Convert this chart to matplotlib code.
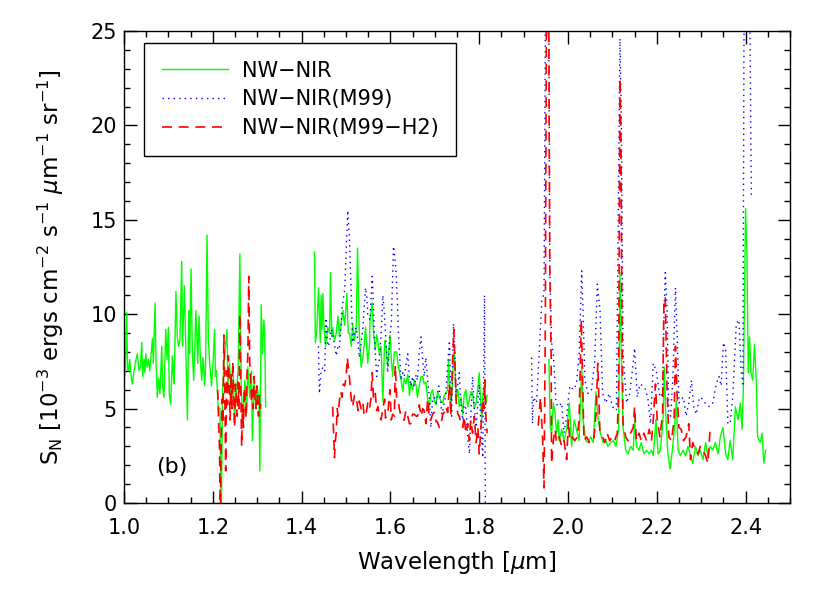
import numpy as np
import matplotlib
matplotlib.use("Agg")
import matplotlib.pyplot as plt
from matplotlib.ticker import MultipleLocator

nan = np.nan

# NW-NIR (green, solid) -- three spectral windows separated by nan
green_wl = [1.000, 1.003, 1.006, 1.008, 1.010, 1.013, 1.017, 1.019, 1.021, 1.025, 1.028, 1.030,
            1.034, 1.037, 1.040, 1.042, 1.045, 1.047, 1.049, 1.052, 1.055, 1.058, 1.064, 1.066,
            1.070, 1.072, 1.075, 1.078, 1.081, 1.085, 1.087, 1.090, 1.094, 1.097, 1.100, 1.102,
            1.105, 1.109, 1.111, 1.113, 1.117, 1.120, 1.123, 1.126, 1.130, 1.132, 1.136, 1.139,
            1.143, 1.146, 1.148, 1.151, 1.154, 1.157, 1.162, 1.166, 1.169, 1.172, 1.175, 1.178,
            1.182, 1.184, 1.187, 1.190, 1.193, 1.197, 1.201, 1.204, 1.206, 1.208, 1.212, 1.216,
            1.219, 1.222, 1.223, 1.227, 1.232, 1.234, 1.238, 1.242, 1.246, 1.249, 1.253, 1.257,
            1.261, 1.264, 1.268, 1.272, 1.276, 1.279, 1.283, 1.287, 1.289, 1.293, 1.297, 1.300,
            1.304, 1.306, 1.309, 1.312, 1.315, 1.317, 1.319,
            1.37,
            1.429, 1.431, 1.434, 1.438, 1.442, 1.444, 1.446, 1.448, 1.450, 1.454, 1.459, 1.463,
            1.465, 1.468, 1.470, 1.474, 1.478, 1.482, 1.485, 1.489, 1.493, 1.497, 1.502, 1.505,
            1.508, 1.512, 1.515, 1.519, 1.523, 1.526, 1.530, 1.534, 1.538, 1.541, 1.544, 1.549,
            1.553, 1.554, 1.559, 1.562, 1.566, 1.569, 1.572, 1.575, 1.579, 1.583, 1.587, 1.590,
            1.594, 1.599, 1.602, 1.605, 1.609, 1.614, 1.618, 1.620, 1.624, 1.628, 1.631, 1.635,
            1.639, 1.643, 1.646, 1.650, 1.654, 1.658, 1.661, 1.665, 1.669, 1.673, 1.676, 1.680,
            1.684, 1.688, 1.691, 1.695, 1.699, 1.703, 1.706, 1.710, 1.714, 1.718, 1.721, 1.725,
            1.729, 1.731, 1.733, 1.736, 1.740, 1.742, 1.744, 1.748, 1.752, 1.755, 1.759, 1.763,
            1.766, 1.770, 1.774, 1.778, 1.781, 1.785, 1.789, 1.793, 1.797, 1.800, 1.804, 1.806,
            1.808, 1.811, 1.815, 1.818,
            1.88,
            1.957, 1.960, 1.963, 1.967, 1.971, 1.974, 1.978, 1.980, 1.986, 1.991, 1.997, 2.003,
            2.008, 2.014, 2.019, 2.025, 2.031, 2.034, 2.040, 2.045, 2.051, 2.057, 2.063, 2.068,
            2.073, 2.079, 2.085, 2.090, 2.096, 2.102, 2.108, 2.114, 2.117, 2.120, 2.124, 2.130,
            2.135, 2.141, 2.147, 2.150, 2.154, 2.160, 2.165, 2.171, 2.177, 2.183, 2.188, 2.192,
            2.198, 2.203, 2.208, 2.214, 2.217, 2.220, 2.225, 2.230, 2.235, 2.240, 2.244, 2.248,
            2.253, 2.259, 2.265, 2.270, 2.275, 2.281, 2.287, 2.293, 2.298, 2.304, 2.310, 2.315,
            2.320, 2.326, 2.332, 2.338, 2.343, 2.349, 2.355, 2.360, 2.365, 2.371, 2.377, 2.383,
            2.388, 2.392, 2.395, 2.400, 2.403, 2.406, 2.409, 2.412, 2.416, 2.420, 2.424, 2.427,
            2.433, 2.437, 2.441, 2.445]
green_sn = [6.5, 7.0, 10.1, 7.1, 7.0, 7.6, 6.5, 6.3, 6.7, 7.4, 7.7, 7.9,
            7.0, 7.2, 8.5, 6.7, 7.6, 6.9, 7.9, 7.2, 7.6, 7.0, 8.7, 7.4,
            10.6, 7.6, 5.6, 6.6, 5.8, 8.3, 6.2, 5.6, 9.2, 7.6, 9.3, 5.8,
            5.2, 7.8, 6.8, 6.3, 11.2, 8.8, 8.3, 8.6, 12.8, 8.3, 11.5, 8.3,
            4.4, 10.2, 7.9, 12.4, 7.9, 6.5, 10.2, 7.4, 9.9, 7.6, 6.5, 7.7,
            6.2, 7.6, 14.2, 8.8, 7.4, 6.2, 7.6, 9.2, 6.7, 7.0, 5.1, 5.0,
            -1.0, 6.0, 6.5, 7.9, 9.2, 6.2, 7.4, 5.1, 6.7, 4.4, 5.8, 7.0,
            13.2, 6.2, 4.0, 6.5, 4.7, 7.2, 5.6, 7.0, 3.3, 6.5, 5.1, 6.2,
            5.4, 1.7, 10.5, 7.9, 9.7, 8.8, 5.1,
            nan,
            13.3, 8.5, 9.0, 11.4, 8.5, 11.0, 9.2, 11.1, 9.5, 8.3, 9.3, 9.0,
            12.2, 8.8, 9.3, 8.6, 9.0, 9.9, 8.8, 9.5, 10.2, 9.4, 11.1, 9.0,
            9.0, 8.3, 9.5, 8.6, 9.3, 13.5, 9.0, 7.2, 7.7, 8.4, 9.3, 7.4,
            8.4, 9.7, 10.6, 9.0, 8.1, 8.9, 8.5, 7.9, 8.3, 5.4, 8.6, 8.3,
            7.2, 8.9, 7.7, 6.7, 8.0, 8.0, 7.2, 7.0, 6.5, 5.9, 6.6, 6.3,
            6.8, 5.7, 6.4, 6.0, 6.5, 6.2, 5.6, 6.2, 6.7, 6.7, 6.3, 6.4,
            5.5, 5.1, 5.8, 6.0, 5.4, 5.2, 5.9, 5.6, 5.4, 5.3, 5.7, 5.8,
            6.0, 7.6, 6.5, 5.1, 6.4, 7.7, 8.0, 5.5, 6.0, 5.1, 5.6, 4.7,
            5.7, 6.0, 5.1, 5.5, 5.9, 5.8, 5.0, 5.3, 6.1, 6.9, 5.1, 4.4,
            5.6, 6.2, 5.3, 5.7,
            nan,
            7.6, 4.0, 3.7, 5.3, 4.7, 3.7, 4.4, 3.3, 3.9, 3.3, 3.9, 5.3,
            3.0, 4.4, 3.9, 3.3, 7.2, 4.4, 3.3, 3.2, 3.5, 3.2, 5.9, 4.4,
            3.7, 3.2, 3.3, 3.0, 3.2, 3.3, 3.0, 3.9, 12.2, 7.9, 4.0, 2.8,
            2.6, 3.0, 2.8, 4.4, 3.0, 2.8, 3.2, 2.6, 2.8, 2.6, 2.8, 2.5,
            4.4, 2.6, 2.8, 4.4, 7.2, 4.7, 2.6, 1.8, 2.8, 4.0, 5.4, 2.8,
            2.5, 2.8, 2.5, 3.0, 2.6, 2.1, 3.0, 2.5, 2.8, 2.3, 3.2, 2.5,
            3.0, 2.8, 3.2, 2.6, 3.5, 4.0, 2.6, 2.3, 3.3, 2.3, 5.1, 4.4,
            5.3, 3.9, 6.1, 15.6, 13.2, 6.9, 8.8, 6.9, 6.5, 8.4, 6.5, 3.5,
            3.2, 3.7, 2.1, 2.8]

# NW-NIR(M99) (blue, dotted)
blue_wl = [1.438, 1.440, 1.444, 1.448, 1.452, 1.455, 1.459, 1.463, 1.467, 1.470, 1.474, 1.478,
           1.482, 1.485, 1.489, 1.491, 1.497, 1.502, 1.504, 1.508, 1.512, 1.515, 1.519, 1.523,
           1.527, 1.530, 1.534, 1.538, 1.544, 1.547, 1.549, 1.554, 1.559, 1.562, 1.564, 1.569,
           1.572, 1.575, 1.579, 1.583, 1.586, 1.589, 1.594, 1.599, 1.602, 1.607, 1.610, 1.613,
           1.616, 1.618, 1.624, 1.628, 1.631, 1.635, 1.639, 1.643, 1.646, 1.650, 1.654, 1.658,
           1.661, 1.665, 1.669, 1.673, 1.676, 1.680, 1.684, 1.688, 1.691, 1.695, 1.699, 1.703,
           1.709, 1.712, 1.716, 1.721, 1.724, 1.729, 1.733, 1.736, 1.738, 1.742, 1.745, 1.748,
           1.752, 1.755, 1.759, 1.763, 1.766, 1.770, 1.774, 1.778, 1.781, 1.785, 1.789, 1.793,
           1.797, 1.800, 1.804, 1.808, 1.812, 1.814,
           1.87,
           1.918, 1.920, 1.922, 1.929, 1.935, 1.941, 1.946, 1.950, 1.956, 1.959, 1.963, 1.967,
           1.973, 1.978, 1.986, 1.991, 1.997, 2.004, 2.012, 2.019, 2.025, 2.031, 2.034, 2.038,
           2.045, 2.053, 2.060, 2.066, 2.072, 2.078, 2.085, 2.093, 2.100, 2.109, 2.113, 2.117,
           2.120, 2.124, 2.132, 2.139, 2.145, 2.150, 2.156, 2.162, 2.169, 2.175, 2.180, 2.186,
           2.192, 2.199, 2.207, 2.213, 2.216, 2.219, 2.223, 2.227, 2.231, 2.236, 2.242, 2.246,
           2.250, 2.255, 2.260, 2.266, 2.272, 2.278, 2.283, 2.289, 2.296, 2.304, 2.311, 2.319,
           2.326, 2.334, 2.340, 2.345, 2.350, 2.355, 2.360, 2.365, 2.371, 2.379, 2.385, 2.390,
           2.394, 2.397, 2.402, 2.408, 2.413]
blue_sn = [8.3, 5.8, 7.0, 7.2, 7.0, 9.8, 8.3, 8.5, 9.2, 9.0, 8.4, 7.8,
           8.3, 8.2, 9.4, 10.3, 11.3, 14.4, 15.5, 13.9, 10.7, 8.5, 9.0, 9.3,
           8.5, 7.7, 8.4, 9.3, 11.4, 10.9, 10.0, 9.7, 12.0, 10.5, 8.8, 6.7,
           7.2, 7.6, 8.9, 11.0, 10.2, 9.0, 6.9, 8.9, 9.5, 13.6, 13.0, 12.1,
           10.5, 9.0, 6.5, 6.9, 6.7, 7.3, 7.9, 6.6, 6.2, 6.7, 6.2, 6.8,
           6.5, 8.0, 8.8, 7.5, 6.7, 7.7, 6.5, 5.5, 4.0, 5.5, 5.6, 5.3,
           6.2, 5.7, 4.7, 5.3, 5.6, 7.3, 8.6, 6.0, 4.6, 9.5, 8.0, 5.8,
           6.3, 6.9, 5.2, 4.4, 5.2, 5.0, 3.5, 2.6, 4.5, 6.7, 5.0, 4.0,
           5.3, 6.3, 4.0, 2.4, 11.0, -1.0,
           nan,
           7.7, 4.2, 5.6, 5.3, 7.9, 10.7, 11.1, 30.0, 30.0, 12.5, 8.5, 7.9,
           5.3, 5.1, 5.3, 3.7, 4.6, 6.2, 6.0, 6.3, 7.9, 12.3, 10.0, 6.5,
           5.8, 6.0, 7.4, 11.6, 10.2, 5.8, 5.3, 5.8, 5.1, 4.9, 15.0, 24.6,
           20.6, 7.9, 5.3, 5.8, 7.0, 8.2, 5.6, 6.3, 6.2, 6.0, 5.5, 4.2,
           7.4, 7.0, 5.6, 5.8, 9.7, 12.2, 10.4, 4.7, 4.6, 6.5, 11.4, 8.8,
           5.3, 5.5, 5.6, 4.6, 5.3, 6.5, 5.1, 4.7, 5.6, 5.5, 5.2, 5.1,
           5.3, 6.3, 6.7, 6.2, 8.5, 8.2, 4.2, 4.2, 5.6, 9.5, 9.7, 7.0,
           6.3, 30.0, 34.0, 30.0, 16.1]

# NW-NIR(M99-H2) (red, dashed)
red_wl = [1.211, 1.213, 1.215, 1.217, 1.219, 1.221, 1.223, 1.225, 1.227, 1.229, 1.231, 1.233,
          1.235, 1.237, 1.239, 1.241, 1.243, 1.245, 1.247, 1.249, 1.251, 1.253, 1.255, 1.257,
          1.259, 1.261, 1.263, 1.265, 1.267, 1.269, 1.271, 1.273, 1.275, 1.277, 1.279, 1.281,
          1.283, 1.285, 1.287, 1.289, 1.291, 1.293, 1.295, 1.297, 1.299, 1.301, 1.303, 1.305,
          1.307, 1.309,
          1.39,
          1.470, 1.472, 1.474, 1.476, 1.478, 1.480, 1.482, 1.485, 1.488, 1.491, 1.494, 1.497,
          1.500, 1.503, 1.506, 1.508, 1.510, 1.512, 1.515, 1.519, 1.523, 1.527, 1.530, 1.534,
          1.538, 1.541, 1.545, 1.549, 1.553, 1.556, 1.559, 1.562, 1.566, 1.569, 1.572, 1.575,
          1.579, 1.583, 1.587, 1.589, 1.594, 1.599, 1.602, 1.605, 1.609, 1.611, 1.614, 1.618,
          1.620, 1.624, 1.628, 1.631, 1.635, 1.639, 1.643, 1.646, 1.650, 1.654, 1.658, 1.661,
          1.665, 1.669, 1.673, 1.676, 1.680, 1.684, 1.688, 1.691, 1.695, 1.699, 1.703, 1.706,
          1.710, 1.714, 1.718, 1.721, 1.725, 1.729, 1.733, 1.736, 1.740, 1.743, 1.746, 1.748,
          1.752, 1.755, 1.759, 1.763, 1.766, 1.770, 1.774, 1.778, 1.781, 1.785, 1.789, 1.793,
          1.797, 1.800, 1.804, 1.808, 1.811, 1.813, 1.815, 1.818,
          1.88,
          1.933, 1.938, 1.943, 1.946, 1.949, 1.952, 1.956, 1.959, 1.962, 1.963, 1.967, 1.971,
          1.974, 1.980, 1.986, 1.991, 1.997, 2.001, 2.004, 2.010, 2.015, 2.021, 2.025, 2.030,
          2.033, 2.036, 2.042, 2.048, 2.053, 2.058, 2.063, 2.067, 2.072, 2.078, 2.083, 2.088,
          2.094, 2.100, 2.105, 2.111, 2.114, 2.117, 2.119, 2.121, 2.124, 2.130, 2.135, 2.141,
          2.147, 2.150, 2.154, 2.160, 2.165, 2.171, 2.177, 2.183, 2.188, 2.192, 2.197, 2.201,
          2.207, 2.213, 2.216, 2.219, 2.223, 2.227, 2.233, 2.239, 2.242, 2.246, 2.250, 2.255,
          2.260, 2.266, 2.272, 2.276, 2.281, 2.287, 2.293, 2.298, 2.304, 2.310, 2.315, 2.320]
red_sn = [6.0, 4.5, 3.0, -1.0, 3.5, 5.5, 4.2, 8.9, 6.0, 1.7, 7.0, 5.2,
          7.8, 6.5, 4.4, 6.9, 5.0, 7.5, 5.8, 4.0, 6.3, 5.5, 4.6, 6.4,
          5.0, 10.0, 6.0, 3.0, 5.2, 4.0, 6.1, 5.3, 4.5, 6.8, 8.0, 12.0,
          7.5, 6.6, 5.5, 6.0, 5.0, 6.7, 5.6, 5.0, 6.2, 5.2, 4.6, 5.7,
          5.0, 5.5,
          nan,
          5.1, 3.7, 2.4, 3.3, 3.7, 5.0, 4.6, 5.4, 5.9, 5.6, 6.3, 6.2,
          6.6, 7.7, 7.0, 6.6, 6.0, 5.5, 5.1, 5.7, 5.6, 4.9, 5.4, 5.0,
          5.3, 4.6, 4.7, 5.3, 5.0, 5.5, 6.9, 5.5, 5.8, 4.9, 5.1, 4.6,
          4.4, 5.0, 5.5, 4.5, 4.7, 6.0, 4.4, 4.7, 4.6, 7.3, 5.6, 5.4,
          5.0, 4.6, 4.4, 4.4, 4.9, 4.6, 4.2, 4.2, 4.7, 4.7, 4.6, 4.6,
          5.2, 4.6, 5.0, 4.9, 4.2, 5.5, 4.4, 4.4, 4.7, 4.8, 4.3, 4.3,
          4.0, 4.2, 4.7, 4.8, 5.1, 4.8, 6.3, 4.6, 7.5, 9.2, 7.0, 5.4,
          4.7, 4.6, 4.2, 4.0, 4.6, 3.7, 4.2, 3.3, 4.4, 3.7, 4.6, 3.2,
          4.0, 2.6, 4.0, 5.5, 5.0, 6.5, 4.6, 3.7,
          nan,
          4.1, 5.6, 3.3, 0.8, 9.7, 30.0, 30.0, 12.3, 7.9, 2.1, 3.3, 3.9,
          3.2, 3.5, 3.0, 3.3, 2.3, 4.4, 3.3, 3.5, 3.3, 3.5, 4.4, 9.7,
          6.5, 3.3, 3.5, 3.2, 3.3, 3.3, 4.7, 7.4, 3.7, 3.5, 3.2, 3.7,
          3.3, 3.5, 3.3, 3.7, 6.2, 22.5, 20.0, 11.4, 4.2, 3.5, 3.3, 3.7,
          4.0, 5.1, 3.3, 3.7, 3.3, 3.7, 3.3, 3.9, 3.3, 4.4, 6.3, 4.4,
          3.5, 4.7, 10.7, 10.9, 6.2, 3.5, 3.3, 4.4, 8.3, 5.6, 4.0, 3.9,
          3.3, 3.5, 4.2, 2.3, 3.2, 2.8, 2.6, 3.0, 2.8, 2.5, 2.1, 3.9]

labels = ["NW\u2212NIR", "NW\u2212NIR(M99)", "NW\u2212NIR(M99\u2212H2)"]
xticks = [1.0, 1.2, 1.4, 1.6, 1.8, 2.0, 2.2, 2.4]

plt.rcParams['font.family'] = ['DejaVu Sans']
plt.rcParams['mathtext.default'] = 'regular'

fig = plt.figure(figsize=(8.3, 5.93), dpi=100)
ax = fig.add_axes([124/830, 90/593, 666/830, 472/593])

ax.plot(green_wl, green_sn, color='#00ff00', lw=1.0, label=labels[0])
ax.plot(blue_wl, blue_sn, color='#0000ff', lw=1.0, linestyle=(0, (1, 3)), label=labels[1])
ax.plot(red_wl, red_sn, color='#ff0000', lw=1.2, linestyle=(0, (6, 4)), label=labels[2])

ax.set_xlim(1.0, 2.5)
ax.set_ylim(0, 25)
ax.xaxis.set_minor_locator(MultipleLocator(0.05))
ax.yaxis.set_major_locator(MultipleLocator(5))
ax.yaxis.set_minor_locator(MultipleLocator(1))
ax.set_xticks(xticks)
ax.set_xticklabels(['%.1f' % t for t in xticks])
ax.tick_params(which='both', direction='in', top=True, right=True, labelsize=15, width=1)
ax.tick_params(which='major', length=9)
ax.tick_params(which='minor', length=4.5)
ax.tick_params(axis='x', which='major', pad=11)
ax.tick_params(axis='y', which='major', pad=5)
for s in ax.spines.values():
    s.set_linewidth(1)

ax.set_xlabel(r'Wavelength [$\mathit{\mu}$m]', fontsize=16.5, labelpad=8)
ax.set_ylabel(r'S$_N$ [10$^{-3}$ ergs cm$^{-2}$ s$^{-1}$ $\mathit{\mu}$m$^{-1}$ sr$^{-1}$]',
              fontsize=16.5, labelpad=18)

ax.text(1.073, 1.9, '(b)', fontsize=16, ha='left', va='center')

leg = ax.legend(loc='upper left', bbox_to_anchor=(0.030, 0.975), borderaxespad=0,
                fancybox=False, edgecolor='black', framealpha=1, fontsize=15,
                handlelength=3.2, handletextpad=0.65, borderpad=0.85, labelspacing=0.42)
leg.get_frame().set_linewidth(1)

fig.savefig('out.png', dpi=100)
